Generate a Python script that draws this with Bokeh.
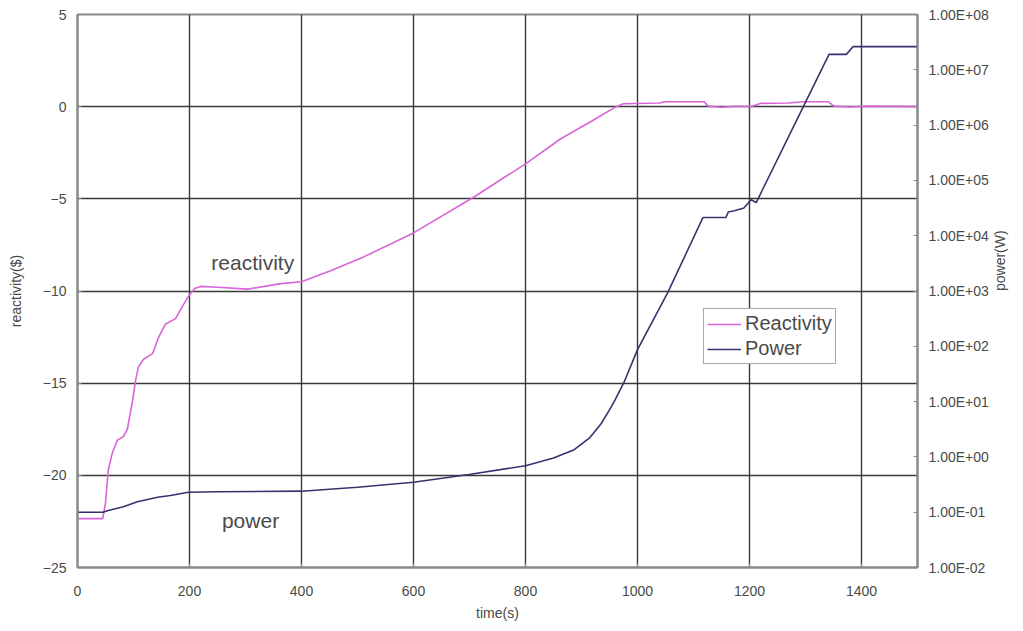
import math
from bokeh.plotting import figure
from bokeh.models import (Range1d, LogScale, LogAxis, FixedTicker,
                          CustomJSTickFormatter, Legend, LegendItem)
from bokeh.core.properties import value
from bokeh.embed import file_html
from bokeh.resources import INLINE

# ---------------- data ----------------
react_time = [0, 45, 50, 55, 62, 71, 82, 89, 98, 104, 109, 118, 134, 145, 157, 175,
              190, 200, 210, 220, 250, 304, 363, 400, 452, 511, 600, 708, 800, 863,
              920, 962, 975, 1040, 1047, 1119, 1126, 1150, 1175, 1203, 1220, 1270,
              1297, 1340, 1351, 1380, 1414, 1500]
reactivity = [-22.35, -22.35, -21.5, -19.7, -18.8, -18.1, -17.9, -17.5, -16.0, -14.8,
              -14.1, -13.7, -13.4, -12.5, -11.8, -11.5, -10.7, -10.2, -9.85, -9.75,
              -9.8, -9.9, -9.6, -9.5, -8.9, -8.15, -6.85, -4.9, -3.1, -1.74,
              -0.75, 0.0, 0.16, 0.2, 0.27, 0.27, 0.03, -0.03, 0.02, 0.0, 0.18, 0.2,
              0.27, 0.27, 0.03, -0.02, 0.03, 0.0]

power_time = [0, 45, 55, 82, 107, 143, 166, 198, 250, 400, 500, 600, 699, 800, 850,
              887, 915, 935, 950, 960, 976, 1000, 1054, 1117, 1158, 1162, 1173, 1190,
              1203, 1212, 1342, 1373, 1385, 1500]
power = [0.1, 0.1, 0.107, 0.126, 0.155, 0.186, 0.2, 0.229, 0.234, 0.24, 0.282, 0.347,
         0.479, 0.692, 0.955, 1.35, 2.24, 3.98, 7.08, 10.7, 22.4, 87.1, 933.0,
         21400.0, 21400.0, 26900.0, 28200.0, 31600.0, 44700.0, 39800.0, 1.9e7, 1.9e7,
         2.63e7, 2.63e7]

x_ticks = [0, 200, 400, 600, 800, 1000, 1200, 1400]
react_ticks = [-25, -20, -15, -10, -5, 0, 5]
power_ticks = [1e-2, 1e-1, 1e0, 1e1, 1e2, 1e3, 1e4, 1e5, 1e6, 1e7, 1e8]

series_names = ["Reactivity", "Power"]
x_title = "time(s)"
y_title = "reactivity($)"
y2_title = "power(W)"
note_react = "reactivity"
note_power = "power"

# ---------------- styles ----------------
FONT = "Liberation Sans"
TXT = "#4a4a4a"
GRID = "#3a3a3a"
FRAME = "#8a8a8a"
C_REACT = "#d865d8"
C_POWER = "#34346e"

p = figure(frame_width=840, frame_height=553,
           min_border_left=77, min_border_right=98, min_border_top=14, min_border_bottom=48,
           x_range=Range1d(0, 1500), y_range=Range1d(-25, 5),
           output_backend="svg", toolbar_location=None,
           background_fill_color="white", border_fill_color="white")

p.extra_y_ranges = {"power": Range1d(1e-2, 1e8)}
p.extra_y_scales = {"power": LogScale()}

p.outline_line_color = FRAME
p.outline_line_width = 2

# grids
p.xgrid.ticker = FixedTicker(ticks=x_ticks, minor_ticks=[])
p.ygrid.ticker = FixedTicker(ticks=react_ticks, minor_ticks=[])
for g in (p.xgrid[0], p.ygrid[0]):
    g.grid_line_color = GRID
    g.grid_line_width = 1.4

# axes
def style_axis(ax):
    ax.axis_line_color = FRAME
    ax.axis_line_width = 2
    ax.major_tick_line_color = FRAME
    ax.major_tick_in = 4
    ax.major_tick_out = 0
    ax.minor_tick_line_color = None
    ax.major_label_text_font = FONT
    ax.major_label_text_font_size = "14px"
    ax.major_label_text_color = TXT
    ax.axis_label_text_font = FONT
    ax.axis_label_text_font_size = "14px"
    ax.axis_label_text_font_style = "normal"
    ax.axis_label_text_color = TXT

xa = p.xaxis[0]
xa.ticker = FixedTicker(ticks=x_ticks, minor_ticks=[])
xa.axis_label = x_title
style_axis(xa)
xa.major_label_standoff = 18
xa.axis_label_standoff = 6

ya = p.yaxis[0]
ya.ticker = FixedTicker(ticks=react_ticks, minor_ticks=[])
ya.axis_label = y_title
style_axis(ya)
ya.major_label_standoff = 11
ya.axis_label_standoff = 16

ra = LogAxis(y_range_name="power", axis_label=y2_title)
ra.ticker = FixedTicker(ticks=power_ticks, minor_ticks=[])
ra.formatter = CustomJSTickFormatter(code="""
const e = Math.round(Math.log10(tick));
const s = e < 0 ? "-" : "+";
const a = Math.abs(e);
return "1.00E" + s + (a < 10 ? "0" : "") + a;
""")
style_axis(ra)
ra.major_label_standoff = 11
ra.axis_label_standoff = 8
ra.axis_label_orientation = math.pi / 2
p.add_layout(ra, "right")

# lines
r1 = p.line(react_time, reactivity, line_color=C_REACT, line_width=1.6)
r2 = p.line(power_time, power, line_color=C_POWER, line_width=1.6, y_range_name="power")

# notes
p.text(x=[313], y=[-8.48], text=[note_react], text_font=value(FONT), text_font_size="21px",
       text_color=TXT, text_align="center", text_baseline="middle")
p.text(x=[309], y=[-22.45], text=[note_power], text_font=value(FONT), text_font_size="21px",
       text_color=TXT, text_align="center", text_baseline="middle")

legend = Legend(items=[LegendItem(label=series_names[0], renderers=[r1]),
                       LegendItem(label=series_names[1], renderers=[r2])],
                location=(626, 203))
legend.border_line_color = "#555555"
legend.border_line_width = 1.5
legend.background_fill_color = "white"
legend.background_fill_alpha = 1
legend.label_text_font = FONT
legend.label_text_font_size = "20px"
legend.label_text_color = TXT
legend.glyph_width = 34
legend.glyph_height = 22
legend.label_height = 22
legend.label_standoff = 4
legend.padding = 3
legend.spacing = 2
legend.margin = 0
p.add_layout(legend)

open("out.html", "w").write(file_html(p, INLINE))
